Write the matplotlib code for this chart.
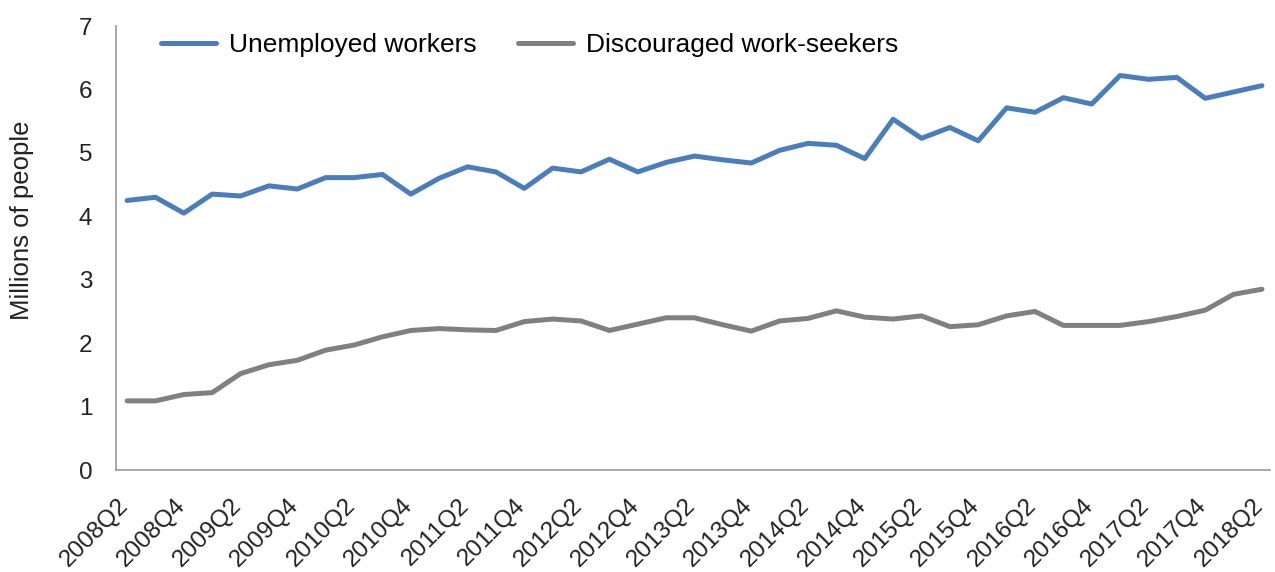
import matplotlib
matplotlib.use("Agg")
import matplotlib.pyplot as plt
from matplotlib.transforms import ScaledTranslation

plt.rcParams['font.family'] = ['Liberation Sans', 'DejaVu Sans']

quarters = [f"{y}Q{q}" for y in range(2008, 2019) for q in range(1, 5)][1:42]

unemployed = [4.25, 4.30, 4.05, 4.35, 4.32, 4.48, 4.43, 4.61, 4.61, 4.66,
              4.35, 4.60, 4.78, 4.70, 4.44, 4.76, 4.70, 4.90, 4.70, 4.85,
              4.95, 4.89, 4.84, 5.04, 5.15, 5.12, 4.91, 5.53, 5.23, 5.40,
              5.19, 5.71, 5.64, 5.87, 5.77, 6.22, 6.16, 6.19, 5.86, 5.96,
              6.06]
discouraged = [1.09, 1.09, 1.19, 1.22, 1.52, 1.66, 1.73, 1.89, 1.97, 2.10,
               2.20, 2.23, 2.21, 2.20, 2.34, 2.38, 2.35, 2.20, 2.30, 2.40,
               2.40, 2.29, 2.19, 2.35, 2.39, 2.51, 2.41, 2.38, 2.43, 2.26,
               2.29, 2.43, 2.50, 2.28, 2.28, 2.28, 2.34, 2.42, 2.52, 2.77,
               2.85]

blue = '#4a7ebb'
grey = '#808080'
text_color = '#222222'

fig = plt.figure(figsize=(12.75, 5.72), dpi=100)
ax = fig.add_axes([0.091, 0.1783, 0.905, 0.7762])

x = range(len(quarters))
ax.plot(x, unemployed, color=blue, lw=3.6, solid_capstyle='round',
        label='Unemployed workers')
ax.plot(x, discouraged, color=grey, lw=3.6, solid_capstyle='round',
        label='Discouraged work-seekers')

ax.set_ylim(0, 7)
ax.set_xlim(-0.39, len(quarters) - 0.72)
ax.set_yticks(range(0, 8))
ax.set_xticks(list(x)[::2])
ax.set_xticklabels(quarters[::2], rotation=45, ha='right', va='center',
                   rotation_mode='anchor')
ax.tick_params(axis='both', length=0, labelsize=17.5, colors=text_color)
ax.tick_params(axis='y', pad=17)
ax.tick_params(axis='x', pad=23)

# nudge rotated labels slightly left so their ends sit under the ticks
shift = ScaledTranslation(-2 / 100, 0, fig.dpi_scale_trans)
for lbl in ax.get_xticklabels():
    lbl.set_transform(lbl.get_transform() + shift)

for side in ('top', 'right'):
    ax.spines[side].set_visible(False)
for side in ('left', 'bottom'):
    ax.spines[side].set_color('#999999')
    ax.spines[side].set_linewidth(1.2)

fig.text(22 / 1275, 0.615, 'Millions of people', rotation=90,
         ha='center', va='center', fontsize=18.5, color=text_color)

fig.legend(*ax.get_legend_handles_labels(), loc='center left',
           bbox_to_anchor=(150 / 1275, 1 - 45 / 572), ncol=2,
           frameon=False, fontsize=19, handlelength=2.1,
           columnspacing=1.55, handletextpad=0.5, borderaxespad=0)

fig.savefig('out.png', dpi=100)
